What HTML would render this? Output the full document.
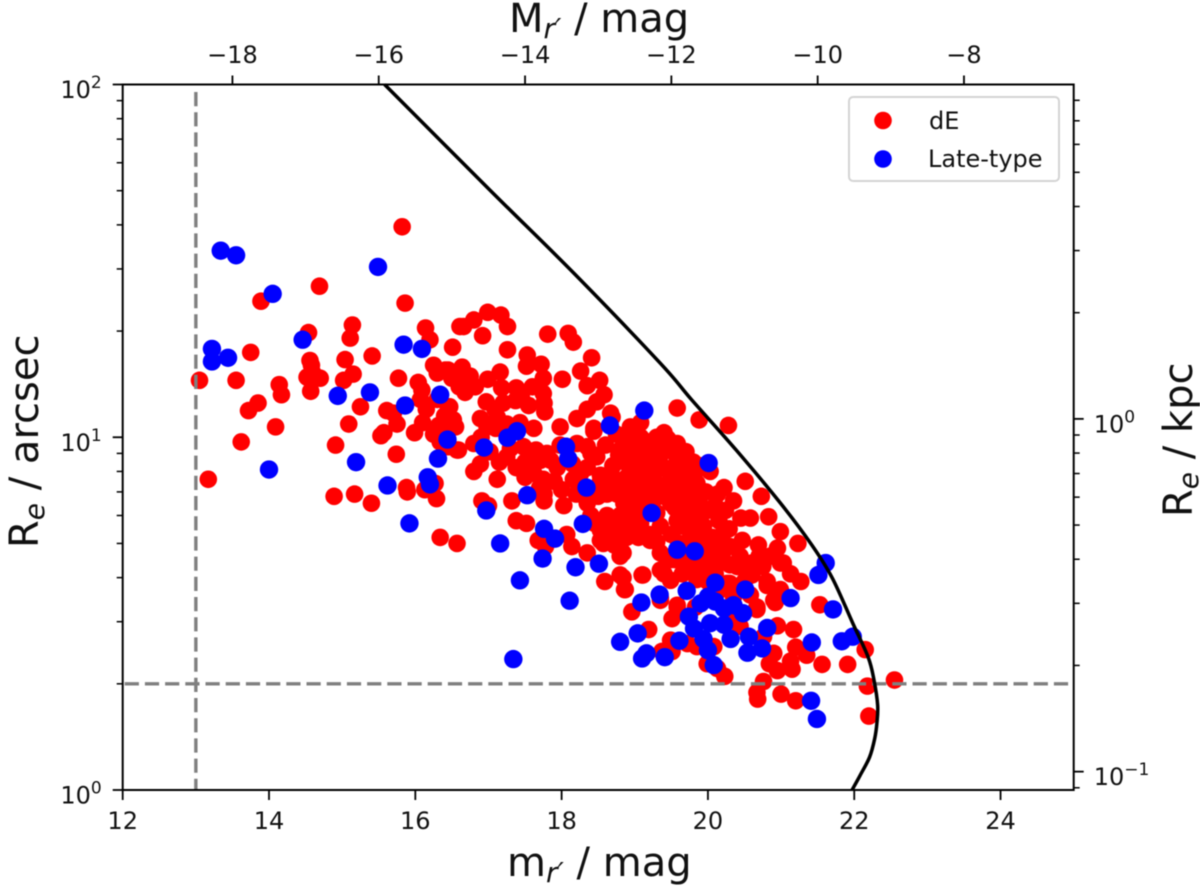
<!DOCTYPE html>
<html lang="en">
<head>
<meta charset="utf-8">
<title>Size-magnitude diagram</title>
<style>
html,body{margin:0;padding:0;background:#fff;width:1200px;height:890px;overflow:hidden}
svg{display:block;filter:blur(0.45px)}
text{font-family:"DejaVu Sans","Liberation Sans",sans-serif;fill:#111}
</style>
</head>
<body>
<svg id="chart" xmlns="http://www.w3.org/2000/svg" width="1200" height="890" viewBox="0 0 1200 890">
  <g id="de-layer"></g>
  <g id="late-layer"></g>
  <g id="ref-layer"></g>
  <g id="curve-layer"></g>
  <g id="axes-layer"></g>
  <g>
    <rect x="849" y="97" width="210" height="84" rx="4" fill="#fff" fill-opacity="0.85" stroke="#d4d4d4" stroke-width="2"/>
    <circle cx="883" cy="120.5" r="8.8" fill="#ff0000"/>
    <text x="929" y="129" font-size="24">dE</text>
    <circle cx="883" cy="159" r="8.8" fill="#0000ff"/>
    <text x="928" y="167" font-size="24">Late-type</text>
  </g>
  <text x="507" y="876" font-size="40">m<tspan font-size="28" font-style="italic" dy="6">r′</tspan><tspan dy="-6"> / mag</tspan></text>
  <text x="509" y="32" font-size="40">M<tspan font-size="28" font-style="italic" dy="6">r′</tspan><tspan dy="-6"> / mag</tspan></text>
  <text transform="translate(38,548) rotate(-90)" font-size="40">R<tspan font-size="28" font-style="italic" dy="6">e</tspan><tspan dy="-6"> / arcsec</tspan></text>
  <text transform="translate(1192,517) rotate(-90)" font-size="40">R<tspan font-size="28" font-style="italic" dy="6">e</tspan><tspan dy="-6"> / kpc</tspan></text>
</svg>
<script>
const deMag = [
15.82,14.69,13.89,15.86,15.14,15.11,14.54,16.14,16.2,16.61,
16.51,13.75,15.04,15.41,14.56,14.58,14.6,14.52,14.7,14.57,
13.05,13.55,14.14,14.17,15.15,15.02,13.85,13.72,15.25,15.09,
14.09,13.62,14.91,13.17,14.89,15.17,15.4,15.53,15.57,15.74,
15.99,15.61,15.7,15.75,15.77,16.04,16.09,16.07,16.25,16.45,
16.52,16.45,16.34,16.52,16.34,16.57,15.88,15.89,16.13,16.27,
16.29,16.34,16.57,16.66,16.8,16.99,17.17,17.26,16.92,17.26,
17.53,17.52,17.72,17.75,17.81,18.09,18.16,18.41,18.26,18.01,
18.52,18.35,18.58,18.48,18.35,18.21,18.69,18.44,17.98,17.62,
17.43,17.76,17.77,17.55,17.37,17.6,17.38,17.16,16.99,17.18,
16.41,16.64,16.5,16.68,16.82,16.68,16.97,17.09,16.89,17.12,
16.98,16.47,16.32,16.55,16.59,16.8,17.02,16.89,16.8,17.12,
17.48,17.25,17.38,17.62,17.71,17.94,17.98,18.21,18.35,18.48,
18.26,18.16,17.76,17.76,17.32,16.91,17,18.03,17.38,17.52,
18.07,17.68,17.78,18.14,18.35,18.53,18.62,18.76,18.8,18.94,
19.08,18.89,18.98,18.8,18.53,19.08,18.89,19.21,19.3,19.32,
19.58,19.88,20.28,20.51,20.73,20.58,20.83,20.99,20.95,20.99,
20.6,20.69,20.7,20.47,20.44,20.22,20.13,19.87,20.22,20.13,
20.24,20.03,19.81,19.67,19.58,19.4,19.58,19.35,19.19,19.03,
18.94,18.78,18.67,18.44,18.6,19.28,19.49,19.15,19.4,19.08,
18.87,18.62,18.53,18.92,18.35,18.57,18.8,18.53,19.21,19.35,
19.58,19.94,19.81,19.99,18.8,18.59,18.86,19.1,19.35,19.49,
19.4,19.72,19.81,19.9,20.06,20.3,18.96,19.35,19.58,20.81,
20.9,20.67,21.23,21.03,21.13,21.27,20.81,20.99,20.92,21.53,
21.17,20.95,20.67,21.2,21.35,20.9,21.13,20.84,21.15,20.95,
21.56,21.91,22.15,22.18,22.55,22.2,20.76,20.67,20.68,21,
21.2,20.23,20.13,19.99,19.19,19.11,18.84,18.84,18.87,19.35,
19.37,19.51,19.49,19.72,19.85,19.51,19.58,19.49,19.62,19.9,
20.17,20.3,20.03,20.26,20.17,20.35,20.58,20.44,20.35,20.76,
20.08,19.83,19.49,19.62,19.76,19.21,19,18.72,19.9,19.97,
19.35,19.08,18.87,19.03,19.21,19.08,18.53,18.7,18.4,18.9,
19.2,19.5,19.75,19.55,18.95,20.29,20.45,20.06,19.95,20.1,
18.75,18.86,19.3,19.45,18.95,19.12,19.45,19.7,19.8,18.95,
19.2,19.4,19.7,19.9,19.6,18.75,19,19.2,19.5,19.7,
19.85,18.85,19.25,19.55,19.75,20.1,20.35,18.45,18.72,19.05,
19.3,19.7,19.85,20.15,18.72,19.05,19.3,19.6,19.95,20.2,
19.35,19.55,19.7,20,20.2,20.4,20.1,20.3,19.65,19.85,
20,20.55,20.6,20.75,20.85,20.5,20.4,17.5,17.55,17.65,
17.8,17.85,17.5,17.75,17.9,17.3,17.15,17.7,16.55,16.75,
16.3,16.6,16.15,16.3,16.4,16.25,16.45,16.1,17.1,17.25,
17.2,16.9,17.45,17.75,18,18.4,18.15,18.7,18.6,18.35,
18.5,18.2
];
const deRe = [
39.5,26.8,24.3,24,20.8,19.1,19.8,20.4,18.9,20.6,
18,17.4,16.6,17,16.5,16,15.2,14.8,14.7,13.5,
14.5,14.5,14.1,13.2,15.1,14.5,12.5,11.9,12.2,10.9,
10.7,9.7,9.5,7.6,6.8,6.9,6.5,10.1,10.3,8.95,
10.3,11.9,11.7,10.9,14.7,14.3,13.6,12.8,16,15.5,
14.8,12.2,10.8,11.2,9.7,9.2,7.2,7,7.1,7.4,
6.7,5.2,5,20.6,21.5,22.6,22.2,20.6,19.4,17.7,
17.1,15.9,16.1,14.7,19.6,19.7,18.6,16.8,15.4,14.6,
14.5,14,13.2,12.6,12,11.3,11.4,10.6,10.7,10.6,
11,12.5,11.8,12.3,12.7,13.9,13.8,15.3,14.6,13.8,
15.5,15.8,14.7,14.5,13.9,13.4,12.6,12,11.3,11.4,
10.7,12.2,10.8,10.7,9.2,9.6,9.1,8.4,8,7.6,
9.4,8.8,8.2,7.9,8.6,8.2,9.5,9.6,9.4,8.8,
7.9,7.6,6.9,6.6,6.6,6.6,6.4,6.4,5.8,5.7,
5.3,5.1,4.9,4.9,6.5,7.8,6.9,6.9,9.2,10.7,
10,7.7,6.8,6,5.45,5.7,5.2,7.7,9.2,6.8,
12.1,11.2,10.8,7.5,6.8,5.9,5.95,5.4,4.85,4.4,
4.07,4.95,4.6,5.1,4.6,4.95,5.1,6.8,7.2,6.9,
6.2,8,7.8,6.8,9.6,10.3,8.7,8.9,9.6,10.7,
10.5,8.9,11.7,10.4,7.1,8,7.6,7.3,6.8,6.5,
6,6,5.6,5.3,4.7,5,4.6,5.1,5.1,5.6,
5.8,5.6,5.95,6.2,4.07,3.9,3.7,4.07,4.2,4.5,
4.1,4.2,4.4,5,5.2,3.85,3.2,3.45,3.3,3.8,
3.45,3.3,5,4.4,4.1,3.9,3.9,3.7,3.4,3.35,
2.85,2.92,3.25,2.54,2.41,2.44,2.32,2.28,2.2,2.18,
2.27,2.27,2.5,1.97,2.05,1.62,2.03,1.89,1.81,1.87,
1.79,2.1,2.21,2.28,2.85,4.07,4.7,4,3.7,3.5,
2.47,2.47,2.66,2.6,2.55,3.06,3.34,3.93,4.5,4.5,
4.5,4.9,4.9,3.85,3.7,3.53,3.57,2.91,3.03,2.72,
2.55,3.3,6.5,5.6,5.2,6.2,6.2,5.3,6.4,7,
7.3,8,8.5,8.8,9.7,11,7.5,7.7,6,5.6,
5.3,5.3,4.8,8.2,7.2,5.5,5.9,4.5,4.2,4.1,
10.2,9.8,10,9.9,9.4,9.2,9.2,9.1,8.5,8.1,
8.4,8.2,8,8.3,7.6,7.2,7.4,7,7.1,7.2,
7.4,6.5,6.6,6.3,6.4,6.4,6.6,5.7,5.75,6,
6.1,5.9,5.5,5.8,4.95,5.2,5.05,5,5.3,5.3,
4.7,4.5,4.6,4.65,4.7,4.3,4.3,4.35,4.1,3.95,
3.9,4.3,4.4,4.3,4.6,3.9,3.7,8.5,9,9.2,
9,8.6,7.7,7.6,7.5,9.3,8.5,7.2,15.2,14.9,
15.2,13.9,12,12.8,11.5,10.2,9.4,11,10.6,10.9,
12.5,10,13,13.3,7.1,9,8.4,8.3,9.5,8.2,
6.8,6.9
];
const lateMag = [
13.34,13.55,15.49,14.05,14.46,15.84,16.09,13.22,13.22,13.44,
14.94,15.38,15.86,16.34,16.44,16.31,15.19,14,15.62,16.17,
16.2,15.92,16.94,17.26,17.39,18.06,18.09,18.34,17.53,16.97,
18.29,17.76,17.91,17.16,19.13,18.66,19.23,17.74,17.43,18.11,
18.19,18.51,17.34,20.01,19.58,19.82,20.1,20.51,19.71,19.34,
19.09,21.61,21.51,21.71,21.13,18.8,19.04,19.16,19.1,19.41,
19.61,19.74,19.81,19.9,20,20.1,20.22,20.35,20.48,20.03,
20.22,20.31,19.94,20,20.08,20.56,20.54,20.74,20.81,21.42,
21.83,21.98,21.41,21.49
];
const lateRe = [
33.8,32.8,30.4,25.5,18.9,18.3,17.8,17.8,16.4,16.8,
13.1,13.4,12.3,13.2,9.85,8.7,8.5,8.1,7.3,7.7,
7.35,5.7,9.35,9.97,10.4,9.4,8.7,7.2,6.85,6.2,
5.68,5.5,5.16,5,11.9,10.8,6.1,4.53,3.93,3.44,
4.28,4.38,2.35,8.45,4.8,4.75,3.87,3.7,3.67,3.58,
3.4,4.4,4.07,3.25,3.5,2.63,2.78,2.44,2.36,2.38,
2.65,3.1,2.87,3.38,3.53,3.42,3.27,3.34,3.17,2.97,
2.94,2.68,2.68,2.49,2.26,2.72,2.45,2.52,2.88,2.62,
2.64,2.72,1.79,1.59
];
const curveMag = [15.58,17.02,18.18,19.35,19.78,20.38,20.99,21.42,21.7,21.98,22.19,22.27,22.32,22.31,22.28,22.21,22.08,21.97];
const curveRe = [100,50.2,29,16.2,12.75,9.23,6.51,4.95,3.99,2.97,2.38,2.05,1.74,1.55,1.4,1.24,1.1,1];
const magLimit = [13];
const reLimit = [2];
const bottomTicks = [12,14,16,18,20,22,24];
const topTicks = [-18,-16,-14,-12,-10,-8];
const leftMajor = [0,1,2];
const rightMajor = [-1,0];
const minorFactors = [2,3,4,5,6,7,8,9];

const NS = 'http://www.w3.org/2000/svg';
const left = 122.7, right = 1073.7, top_ = 84.5, bottom = 790;
const magMin = 12, magMax = 25, logMin = 0, logMax = 2;
const distanceModulus = 31.5;
const kpcPerArcsec = 0.0887;
function sx(m){ return left + (m - magMin) / (magMax - magMin) * (right - left); }
function sy(r){ return bottom - (Math.log10(r) - logMin) / (logMax - logMin) * (bottom - top_); }
function syLog(l){ return bottom - (l - logMin) / (logMax - logMin) * (bottom - top_); }
function syKpc(k){ return sy(k / kpcPerArcsec); }
function make(tag, parent, attrs){
  const el = document.createElementNS(NS, tag);
  for (const k in attrs) el.setAttribute(k, attrs[k]);
  parent.appendChild(el);
  return el;
}

const deLayer = document.getElementById('de-layer');
deMag.forEach(function(m, i){
  const c = make('circle', deLayer, {cx: sx(m), cy: sy(deRe[i]), r: 8.8, fill: '#ff0000'});
  
  
});
const lateLayer = document.getElementById('late-layer');
lateMag.forEach(function(m, i){
  const c = make('circle', lateLayer, {cx: sx(m), cy: sy(lateRe[i]), r: 9.2, fill: '#0000ff'});
  
  
});

const refLayer = document.getElementById('ref-layer');
magLimit.forEach(function(m){
  const l = make('line', refLayer, {x1: sx(m), x2: sx(m), y1: top_ + 7.5, y2: bottom, stroke: '#808080', 'stroke-width': 3.4, 'stroke-dasharray': '14.2 6'});
  
  
});
reLimit.forEach(function(r){
  const l = make('line', refLayer, {x1: left + 2, x2: right, y1: sy(r), y2: sy(r), stroke: '#808080', 'stroke-width': 3.4, 'stroke-dasharray': '14.2 6'});
  
  
});

const curveLayer = document.getElementById('curve-layer');
const pts = curveMag.map(function(m, i){ return [sx(m), sy(curveRe[i])]; });
let d = 'M' + pts[0][0] + ' ' + pts[0][1];
for (let i = 0; i < pts.length - 1; i++) {
  const p0 = pts[Math.max(i - 1, 0)], p1 = pts[i], p2 = pts[i + 1], p3 = pts[Math.min(i + 2, pts.length - 1)];
  const c1x = p1[0] + (p2[0] - p0[0]) / 6, c1y = p1[1] + (p2[1] - p0[1]) / 6;
  const c2x = p2[0] - (p3[0] - p1[0]) / 6, c2y = p2[1] - (p3[1] - p1[1]) / 6;
  d += ' C' + c1x + ' ' + c1y + ' ' + c2x + ' ' + c2y + ' ' + p2[0] + ' ' + p2[1];
}
const curve = make('path', curveLayer, {d: d, fill: 'none', stroke: '#000', 'stroke-width': 3.5});



const axes = document.getElementById('axes-layer');
const frame = make('rect', axes, {x: left, y: top_, width: right - left, height: bottom - top_, fill: 'none', stroke: '#000', 'stroke-width': 2});



function tick(x1, y1, x2, y2, w){
  const t = make('line', axes, {x1: x1, y1: y1, x2: x2, y2: y2, stroke: '#000', 'stroke-width': w});
  
  
}
function powerLabel(x, y, anchorEnd, exp){
  const t = make('text', axes, {x: x, y: y, 'font-size': 24, 'text-anchor': anchorEnd ? 'end' : 'start'});
  
  
  t.textContent = '10';
  const s = make('tspan', t, {'font-size': 17, dy: -10});
  s.textContent = String(exp).replace('-', '\u2212');
}

bottomTicks.forEach(function(v){
  tick(sx(v), bottom, sx(v), bottom + 10, 1.8);
  const t = make('text', axes, {x: sx(v), y: 829, 'font-size': 24, 'text-anchor': 'middle'});
  
  
  t.textContent = String(v);
});
topTicks.forEach(function(v){
  const x = sx(v + distanceModulus);
  tick(x, top_, x, top_ - 9, 1.8);
  const t = make('text', axes, {x: x, y: 63, 'font-size': 24, 'text-anchor': 'middle'});
  
  
  t.textContent = String(v).replace('-', '\u2212');
});
leftMajor.forEach(function(e){
  tick(left - 10, syLog(e), left, syLog(e), 1.8);
  powerLabel(left - 21, syLog(e) + 13.5, true, e);
  if (e < 2) minorFactors.forEach(function(f){
    const y = syLog(e + Math.log10(f));
    tick(left - 6, y, left, y, 1.5);
  });
});
rightMajor.forEach(function(e){
  const y = syKpc(Math.pow(10, e));
  tick(right, y, right + 10, y, 1.8);
  powerLabel(right + 20, y + 13.5, false, e);
  minorFactors.forEach(function(f){
    const v = f * Math.pow(10, e);
    const yy = syKpc(v);
    if (yy >= top_ - 1 && yy <= bottom + 1) tick(right, yy, right + 6, yy, 1.5);
  });
});
const nine = syKpc(0.09);
tick(right, nine, right + 6, nine, 1.5);
</script>
</body>
</html>
